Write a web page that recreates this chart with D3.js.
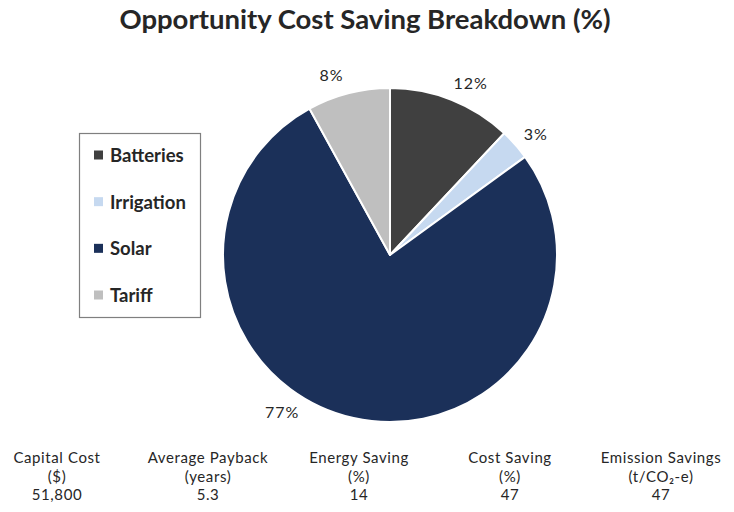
<!DOCTYPE html>
<html>
<head>
<meta charset="utf-8">
<script src="https://cdn.jsdelivr.net/npm/d3@7/dist/d3.min.js"></script>
<style>
  html, body { margin: 0; padding: 0; background: #fff; }
  svg { display: block; font-family: Lato, "Noto Sans", sans-serif; }
</style>
</head>
<body>
<svg id="chart" width="734" height="512"></svg>
<script>
// Opportunity cost saving breakdown — pie with legend and summary row.

const categories = ["Batteries", "Irrigation", "Solar", "Tariff"];
const shares = [12, 3, 77, 8];
const colors = ["#404040", "#c6d9f0", "#1b3059", "#bfbfbf"];

const statTitles = ["Capital Cost", "Average Payback", "Energy Saving", "Cost Saving", "Emission Savings"];
const statUnits = ["($)", "(years)", "(%)", "(%)", "(t/CO\u2082-e)"];
const statValues = ["51,800", "5.3", "14", "47", "47"];

// label angle nudges (degrees) mimicking the spreadsheet's best-fit placement
const labelNudge = [3.5, 1.5, 22, -3.5];

const W = 734, H = 512;
const cx = 390, cy = 255, R = 167;

const svg = d3.select("#chart");

svg.append("text")
  .attr("x", 365).attr("y", 29)
  .attr("text-anchor", "middle")
  .attr("font-size", 27.5)
  .attr("font-weight", 700)
  .attr("fill", "#262626")
  .text("Opportunity Cost Saving Breakdown (%)");

const pie = d3.pie().sort(null).value(d => d.v);
const arcs = pie(categories.map((c, i) => ({ c, v: shares[i], i })));
const arc = d3.arc().innerRadius(0).outerRadius(R);

const g = svg.append("g").attr("transform", `translate(${cx},${cy})`);

g.selectAll("path")
  .data(arcs)
  .join("path")
  .attr("d", arc)
  .attr("fill", d => colors[d.data.i])
  .attr("stroke", "#fff")
  .attr("stroke-width", 2)
  .attr("stroke-linejoin", "round");

const labelR = R + 23;
g.selectAll("text.lbl")
  .data(arcs)
  .join("text")
  .attr("class", "lbl")
  .attr("transform", d => {
    const a = (d.startAngle + d.endAngle) / 2 + labelNudge[d.data.i] * Math.PI / 180;
    return `translate(${labelR * Math.sin(a)},${-labelR * Math.cos(a)})`;
  })
  .attr("text-anchor", "middle")
  .attr("dominant-baseline", "central")
  .attr("font-size", 16)
  .attr("letter-spacing", 1)
  .attr("fill", "#262626")
  .text(d => d.data.v + "%");

// legend
const lg = svg.append("g");
lg.append("rect")
  .attr("x", 79.5).attr("y", 133.5)
  .attr("width", 121).attr("height", 184)
  .attr("fill", "#fff")
  .attr("stroke", "#7f7f7f")
  .attr("stroke-width", 1.2);

const ly = d3.scalePoint().domain(categories).range([155, 295]);
const items = lg.selectAll("g.item")
  .data(categories)
  .join("g")
  .attr("class", "item")
  .attr("transform", d => `translate(94,${ly(d)})`);
items.append("rect")
  .attr("x", 0).attr("y", -4.5)
  .attr("width", 9).attr("height", 9)
  .attr("fill", (d, i) => colors[i]);
items.append("text")
  .attr("x", 16)
  .attr("dominant-baseline", "central")
  .attr("font-size", 18.5)
  .attr("font-weight", 700)
  .attr("fill", "#262626")
  .text(d => d);

// summary row
const sx = d3.scalePoint().domain(statTitles).range([57, 661]);
const stats = svg.append("g").selectAll("g")
  .data(statTitles)
  .join("g")
  .attr("transform", d => `translate(${sx(d)},0)`)
  .attr("text-anchor", "middle")
  .attr("font-size", 15)
  .attr("letter-spacing", 0.6)
  .attr("fill", "#262626");
stats.append("text").attr("y", 463).text(d => d);
stats.append("text").attr("y", 481.5).text((d, i) => statUnits[i]);
stats.append("text").attr("y", 500).text((d, i) => statValues[i]);
</script>
</body>
</html>
